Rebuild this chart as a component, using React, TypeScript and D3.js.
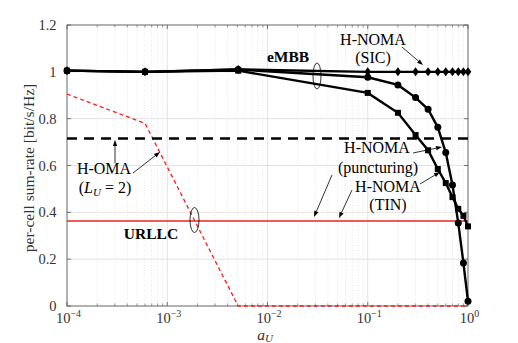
import React from 'react';
import * as d3 from 'd3';

// a_U sample points shared by the H-NOMA curves
const aU = [1e-4, 6e-4, 5.1e-3, 0.1, 0.2, 0.3, 0.4, 0.5, 0.6, 0.7, 0.8, 0.9, 1.0];
const nomaSic = [1.005, 1.0, 1.01, 1.0, 1.0, 1.0, 1.0, 1.0, 1.0, 1.0, 1.0, 1.0, 1.0];
const nomaPuncturing = [1.005, 1.0, 1.01, 0.977, 0.944, 0.89, 0.84, 0.763, 0.655, 0.517, 0.354, 0.184, 0.02];
const nomaTin = [1.005, 1.0, 1.005, 0.91, 0.825, 0.73, 0.665, 0.585, 0.525, 0.465, 0.415, 0.385, 0.34];

// H-OMA URLLC rate (red dashed)
const omaUrllcA = [1e-4, 6e-4, 5.1e-3, 1.0];
const omaUrllc = [0.905, 0.78, 0, 0];

const omaEmbb = 0.715;
const nomaUrllc = 0.363;

const yTicks = [0, 0.2, 0.4, 0.6, 0.8, 1, 1.2];
const xTickExp = [-4, -3, -2, -1, 0];

const W = 518, H = 343;
const FONT = 'Liberation Serif, DejaVu Serif, serif';

function Arrow({ x1, y1, x2, y2 }: { x1: number; y1: number; x2: number; y2: number }) {
    const a = Math.atan2(y2 - y1, x2 - x1);
    const L = 6, w = 2.2;
    const bx = x2 - L * Math.cos(a), by = y2 - L * Math.sin(a);
    const p = `${x2},${y2} ${bx - w * Math.sin(a)},${by + w * Math.cos(a)} ${bx + w * Math.sin(a)},${by - w * Math.cos(a)}`;
    return (
        <g>
            <line x1={x1} y1={y1} x2={bx} y2={by} stroke="#000" strokeWidth={0.8} />
            <polygon points={p} fill="#000" />
        </g>
    );
}

export default function App() {
    const x = d3.scaleLog().domain([1e-4, 1]).range([67, 468]);
    const y = d3.scaleLinear().domain([0, 1.2]).range([306, 25]);
    const [x0, x1] = x.range();
    const [y0, y1] = y.range();

    const line = d3.line<[number, number]>().x(d => x(d[0])).y(d => y(d[1]));
    const pts = (xs: number[], ys: number[]) => xs.map((v, i) => [v, ys[i]] as [number, number]);

    const minor: number[] = [];
    for (let e = -4; e < 0; e++) for (let k = 2; k <= 9; k++) minor.push(k * Math.pow(10, e));

    const sicPts = pts(aU, nomaSic);
    const puncPts = pts(aU, nomaPuncturing);
    const tinPts = pts(aU, nomaTin);

    return (
        <svg width={W} height={H} style={{ display: 'block', position: 'absolute', left: 0, top: 0, fontFamily: FONT }}>
            <rect width={W} height={H} fill="#fff" />
            {/* grid */}
            {minor.map((v, i) => (
                <line key={'m' + i} x1={x(v)} x2={x(v)} y1={y0} y2={y1} stroke="#d8d8d8" strokeWidth={0.6} strokeDasharray="1,1.5" />
            ))}
            {xTickExp.map(e => (
                <line key={'gx' + e} x1={x(Math.pow(10, e))} x2={x(Math.pow(10, e))} y1={y0} y2={y1} stroke="#dcdcdc" strokeWidth={0.8} />
            ))}
            {yTicks.map(t => (
                <line key={'gy' + t} x1={x0} x2={x1} y1={y(t)} y2={y(t)} stroke="#dcdcdc" strokeWidth={0.8} />
            ))}
            {/* box + ticks */}
            <rect x={x0} y={y1} width={x1 - x0} height={y0 - y1} fill="none" stroke="#555" strokeWidth={0.8} />
            {yTicks.map(t => (
                <g key={'ty' + t}>
                    <line x1={x0} x2={x0 + 4} y1={y(t)} y2={y(t)} stroke="#555" strokeWidth={0.8} />
                    <line x1={x1} x2={x1 - 4} y1={y(t)} y2={y(t)} stroke="#555" strokeWidth={0.8} />
                    <text x={56.5} y={y(t) + 5} textAnchor="end" fontSize={14.5} fill="#333">{t}</text>
                </g>
            ))}
            {minor.map((v, i) => (
                <g key={'tm' + i}>
                    <line x1={x(v)} x2={x(v)} y1={y0} y2={y0 - 2.5} stroke="#555" strokeWidth={0.6} />
                    <line x1={x(v)} x2={x(v)} y1={y1} y2={y1 + 2.5} stroke="#555" strokeWidth={0.6} />
                </g>
            ))}
            {xTickExp.map(e => (
                <g key={'tx' + e}>
                    <line x1={x(Math.pow(10, e))} x2={x(Math.pow(10, e))} y1={y0} y2={y0 - 4} stroke="#555" strokeWidth={0.8} />
                    <line x1={x(Math.pow(10, e))} x2={x(Math.pow(10, e))} y1={y1} y2={y1 + 4} stroke="#555" strokeWidth={0.8} />
                    <text x={x(Math.pow(10, e)) + 1.5} y={323} textAnchor="middle" fontSize={14.5} fill="#333">
                        10<tspan dy={-6} fontSize={10}>{e < 0 ? '\u2212' + Math.abs(e) : '0'}</tspan>
                    </text>
                </g>
            ))}
            {/* axis labels */}
            <text x={265} y={339.5} textAnchor="middle" fontSize={15.5} fill="#333" fontStyle="italic">
                a<tspan dy={2.5} fontSize={11}>U</tspan>
            </text>
            <text transform="translate(34,168) rotate(-90)" textAnchor="middle" fontSize={15.5} fill="#333">
                per-cell sum-rate [bit/s/Hz]
            </text>

            {/* H-OMA */}
            <path d={line(pts(omaUrllcA, omaUrllc)) || ''} fill="none" stroke="#ff1a1a" strokeWidth={1.3} strokeDasharray="4,3" />
            <line x1={x0} x2={x1} y1={y(omaEmbb)} y2={y(omaEmbb)} stroke="#000" strokeWidth={2.4} strokeDasharray="10,7" />
            {/* H-NOMA URLLC */}
            <line x1={x0} x2={x1} y1={y(nomaUrllc)} y2={y(nomaUrllc)} stroke="#ee2222" strokeWidth={1.4} />

            {/* H-NOMA eMBB curves */}
            <path d={line(tinPts) || ''} fill="none" stroke="#000" strokeWidth={2.4} />
            <path d={line(puncPts) || ''} fill="none" stroke="#000" strokeWidth={2.4} />
            <path d={line(sicPts) || ''} fill="none" stroke="#000" strokeWidth={2.4} />
            {tinPts.map((d, i) => (
                <rect key={'s' + i} x={x(d[0]) - 3} y={y(d[1]) - 3} width={6} height={6} fill="#000" />
            ))}
            {puncPts.map((d, i) => (
                <circle key={'c' + i} cx={x(d[0])} cy={y(d[1])} r={3.5} fill="#000" />
            ))}
            {sicPts.map((d, i) => {
                const cx = x(d[0]), cy = y(d[1]);
                return <polygon key={'d' + i} points={`${cx},${cy - 4.5} ${cx + 3.3},${cy} ${cx},${cy + 4.5} ${cx - 3.3},${cy}`} fill="#000" />;
            })}

            {/* ellipses */}
            <ellipse cx={317} cy={76} rx={4} ry={13} fill="none" stroke="#000" strokeWidth={0.8} />
            <ellipse cx={194.5} cy={220} rx={4.5} ry={12.5} fill="none" stroke="#000" strokeWidth={0.8} />

            {/* annotations */}
            <text x={288} y={62} textAnchor="middle" fontSize={15.5} fontWeight="bold">eMBB</text>
            <text x={151} y={239} textAnchor="middle" fontSize={15.5} fontWeight="bold">URLLC</text>

            <text x={373} y={45} textAnchor="middle" fontSize={16}>H-NOMA</text>
            <text x={373} y={63} textAnchor="middle" fontSize={16}>(SIC)</text>
            <Arrow x1={402} y1={47} x2={423} y2={65} />

            <text x={104} y={174} textAnchor="middle" fontSize={16}>H-OMA</text>
            <text x={105} y={193} textAnchor="middle" fontSize={16}>
                (<tspan fontStyle="italic">L</tspan><tspan dy={3} fontSize={11} fontStyle="italic">U</tspan><tspan dy={-3}> = 2)</tspan>
            </text>
            <Arrow x1={115} y1={163} x2={115} y2={140} />
            <Arrow x1={133} y1={173} x2={160} y2={152} />

            <text x={377} y={153} textAnchor="middle" fontSize={16}>H-NOMA</text>
            <text x={378} y={173} textAnchor="middle" fontSize={16}>(puncturing)</text>
            <Arrow x1={413} y1={153} x2={442} y2={147} />
            <Arrow x1={332} y1={175} x2={314} y2={217} />

            <text x={388} y={192} textAnchor="middle" fontSize={16}>H-NOMA</text>
            <text x={388} y={210} textAnchor="middle" fontSize={16}>(TIN)</text>
            <Arrow x1={352} y1={190} x2={339} y2={218} />
            <Arrow x1={420} y1={184} x2={440} y2={172} />
        </svg>
    );
}
